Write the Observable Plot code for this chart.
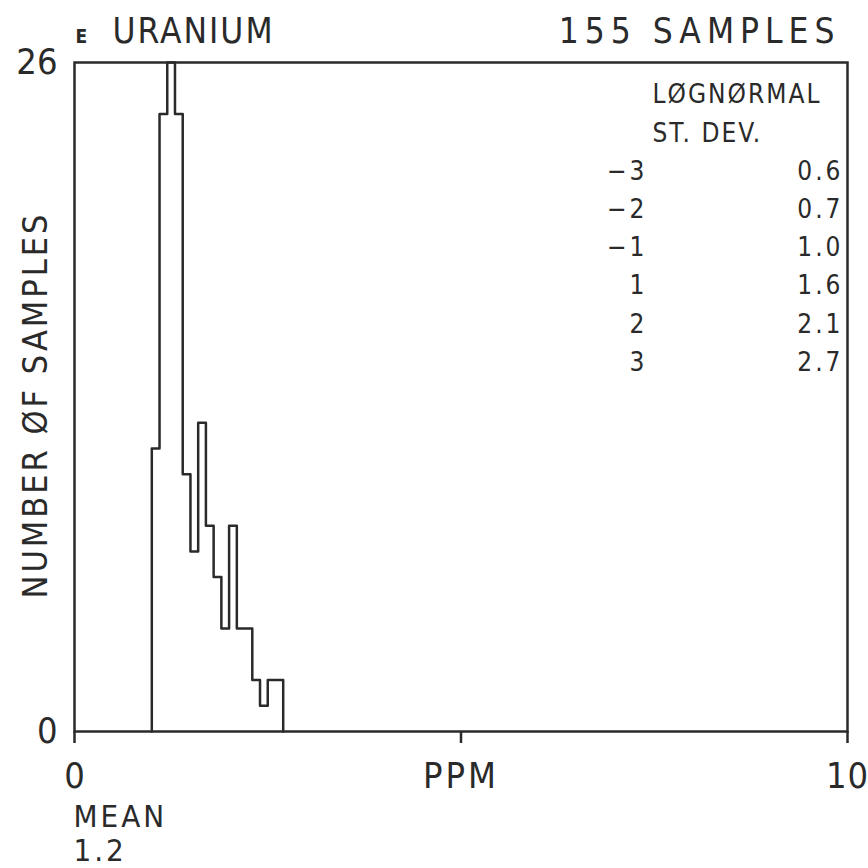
<!DOCTYPE html>
<html><head><meta charset="utf-8">
<script src="https://cdn.jsdelivr.net/npm/d3@7"></script>
<script src="https://cdn.jsdelivr.net/npm/@observablehq/plot@0.6"></script>
<style>
body{margin:0;background:#fff}
svg text{letter-spacing:3px}
</style>
</head><body><div id="chart"></div>
<script>
// Histogram bins (ppm) and counts
const binStarts = [1.0,1.1,1.2,1.3,1.4,1.5,1.6,1.7,1.8,1.9,2.0,2.1,2.2,2.3,2.4,2.5,2.6];
const binWidth = 0.1;
const counts = [11,24,26,24,10,7,12,8,6,4,8,4,4,2,1,2,2];
const xTicks = [0,5,10];
const xTickLabels = ["0","PPM","10"];
const yTicks = [0,26];
const sigmaLabels = ["\u22123","\u22122","\u22121","1","2","3"];
const sigmaValues = ["0.6","0.7","1.0","1.6","2.1","2.7"];
const elementName = "URANIUM";
const elementTag = "E";
const sampleCount = 155;
const meanValue = "1.2";
const yLabel = "NUMBER ØF SAMPLES";

const last = binStarts.length - 1;
const steps = [{x: binStarts[0], y: 0}]
  .concat(binStarts.map((x, i) => ({x, y: counts[i]})))
  .concat([{x: binStarts[last] + binWidth, y: counts[last]}, {x: binStarts[last] + binWidth, y: 0}]);

const FONT = "'Liberation Sans Narrow','DejaVu Sans Condensed','Liberation Sans',sans-serif";
const ink = "#2a2a2a";
const samplesText = `${sampleCount} SAMPLES`;

const chart = Plot.plot({
  width: 868, height: 868,
  marginLeft: 74, marginRight: 21, marginTop: 62, marginBottom: 137,
  style: {fontFamily: FONT, color: ink, background: "#fff"},
  x: {domain: [0, 10]},
  y: {domain: [0, 26]},
  marks: [
    Plot.frame({stroke: ink, strokeWidth: 2.5}),
    Plot.axisX({ticks: xTicks, tickFormat: d => xTickLabels[xTicks.indexOf(d)], tickSize: 12, tickPadding: 19, fontSize: 36, stroke: ink, strokeWidth: 2.5, label: null}),
    Plot.axisY({ticks: yTicks, tickSize: 0, tickPadding: 17, fontSize: 36, label: null}),
    Plot.lineY(steps, {x: "x", y: "y", curve: "step-after", stroke: ink, strokeWidth: 2.5}),
    Plot.text([yLabel], {frameAnchor: "left", textAnchor: "middle", lineAnchor: "middle", rotate: -90, dx: -38, dy: 8, fontSize: 34, fill: ink}),
    Plot.text([elementTag], {frameAnchor: "top-left", textAnchor: "start", lineAnchor: "bottom", dx: 1, dy: -20, fontSize: 19, fontWeight: "bold", fill: ink}),
    Plot.text([elementName], {frameAnchor: "top-left", textAnchor: "start", lineAnchor: "bottom", dx: 38, dy: -20, fontSize: 35, fill: ink}),
    Plot.text([samplesText], {frameAnchor: "top-right", textAnchor: "end", lineAnchor: "bottom", dx: -7, dy: -20, fontSize: 35, fill: ink}),
    Plot.text(["LØGNØRMAL\nST. DEV."], {frameAnchor: "top-right", textAnchor: "start", lineAnchor: "top", dx: -195, dy: 13, fontSize: 26, lineHeight: 1.5, fill: ink}),
    Plot.text([sigmaLabels.join("\n")], {frameAnchor: "top-right", textAnchor: "end", lineAnchor: "top", dx: -200, dy: 90, fontSize: 26, lineHeight: 1.47, fill: ink}),
    Plot.text([sigmaValues.join("\n")], {frameAnchor: "top-right", textAnchor: "end", lineAnchor: "top", dx: -4, dy: 90, fontSize: 26, lineHeight: 1.47, fill: ink}),
    Plot.text([`MEAN\n${meanValue}`], {frameAnchor: "bottom-left", textAnchor: "start", lineAnchor: "top", dx: -1, dy: 71, fontSize: 31, lineHeight: 1.1, fill: ink})
  ]
});
document.getElementById("chart").appendChild(chart);

// per-text letter spacing to mimic the plotter lettering
const spacing = new Map([
  [elementName, "2px"],
  [samplesText, "6px"],
  ["0", "0px"], ["10", "1px"], ["26", "0px"], ["PPM", "3px"],
  [yLabel, "3px"]
]);
d3.select(chart).selectAll("text").each(function() {
  const t = this.textContent;
  if (spacing.has(t)) this.style.letterSpacing = spacing.get(t);
  if (t.startsWith("LØGNØRMAL")) this.style.letterSpacing = "2px";
});
</script>
</body></html>
